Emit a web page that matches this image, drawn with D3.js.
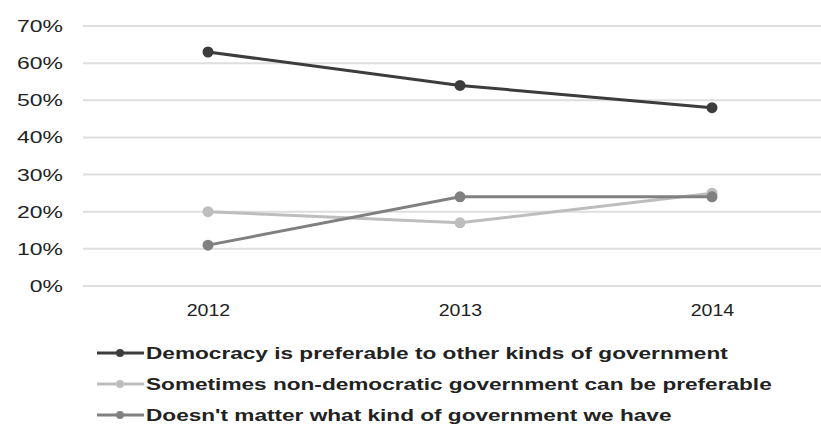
<!DOCTYPE html>
<html>
 <head>
  <meta charset="utf-8">
  <title>Support for democracy</title>
  <script src="https://cdnjs.cloudflare.com/ajax/libs/d3/7.8.5/d3.min.js"></script>
  <style>
    body { margin: 0; background: #fff; }
    text { font-family: "Liberation Sans", Arial, sans-serif; fill: #222; }
  </style>
 </head>
 <body>
  <div id="chart"></div>
  <script>
    // data
    var years = ["2012", "2013", "2014"];
    var democracy = [63, 54, 48];
    var sometimes = [20, 17, 25];
    var doesntMatter = [11, 24, 24];
    var yTicks = [0, 10, 20, 30, 40, 50, 60, 70];
    var seriesNames = [
      "Democracy is preferable to other kinds of government",
      "Sometimes non-democratic government can be preferable",
      "Doesn't matter what kind of government we have"
    ];
    var seriesColors = ["#3c3c3c", "#bdbdbd", "#808080"];

    var series = [democracy, sometimes, doesntMatter].map(function(v, i) {
      return { name: seriesNames[i], color: seriesColors[i], values: v };
    });

    var width = 821, height = 447;

    // the text in the picture is wide, so stretch it sideways
    function widen(sel, k) {
      sel.each(function() {
        var w = this.getComputedTextLength();
        d3.select(this).attr("textLength", w * k)
                       .attr("lengthAdjust", "spacingAndGlyphs");
      });
    }

    var svg = d3.select("#chart").append("svg")
                .attr("width", width)
                .attr("height", height);

    var x = d3.scalePoint().domain(years).range([208, 712]);
    var y = d3.scaleLinear().domain([0, 70]).range([286, 26]);

    // gridlines
    svg.append("g")
       .selectAll("line")
       .data(yTicks)
       .join("line")
       .attr("x1", 83).attr("x2", width)
       .attr("y1", function(d) { return y(d); })
       .attr("y2", function(d) { return y(d); })
       .attr("stroke", "#dedede")
       .attr("stroke-width", 2);

    // y axis labels
    var yAxis = svg.append("g")
       .attr("transform", "translate(63,0)")
       .call(d3.axisLeft(y).tickValues(yTicks)
               .tickFormat(function(d) { return d + "%"; })
               .tickSize(0).tickPadding(0));
    yAxis.select(".domain").remove();
    yAxis.selectAll("text")
         .style("font-size", "17px")
         .attr("fill", "#333")
         .call(widen, 1.35);

    // x axis labels
    var xAxis = svg.append("g")
       .attr("transform", "translate(0,296)")
       .call(d3.axisBottom(x).tickSize(0).tickPadding(8));
    xAxis.select(".domain").remove();
    xAxis.selectAll("text")
         .style("font-size", "17px")
         .attr("fill", "#333")
         .call(widen, 1.15);

    var line = d3.line()
                 .x(function(d, i) { return x(years[i]); })
                 .y(function(d) { return y(d); });

    var g = svg.append("g")
               .selectAll("g")
               .data(series)
               .join("g");

    g.append("path")
     .attr("d", function(s) { return line(s.values); })
     .attr("fill", "none")
     .attr("stroke", function(s) { return s.color; })
     .attr("stroke-width", 3);

    g.selectAll("circle")
     .data(function(s) { return s.values.map(function(v, i) { return { v: v, i: i, c: s.color }; }); })
     .join("circle")
     .attr("cx", function(d) { return x(years[d.i]); })
     .attr("cy", function(d) { return y(d.v); })
     .attr("r", 5.5)
     .attr("fill", function(d) { return d.c; });

    // legend
    var legend = svg.append("g")
                    .selectAll("g")
                    .data(series)
                    .join("g")
                    .attr("transform", function(d, i) { return "translate(97," + (353 + i * 31) + ")"; });

    legend.append("line")
          .attr("x1", 0).attr("x2", 47)
          .attr("stroke", function(d) { return d.color; })
          .attr("stroke-width", 3);
    legend.append("circle")
          .attr("cx", 23).attr("r", 4)
          .attr("fill", function(d) { return d.color; });
    legend.append("text")
          .attr("x", 49)
          .attr("dy", "0.36em")
          .style("font-size", "17px")
          .style("font-weight", "bold")
          .text(function(d) { return d.name; })
          .call(widen, 1.33);
  </script>
 </body>
</html>
